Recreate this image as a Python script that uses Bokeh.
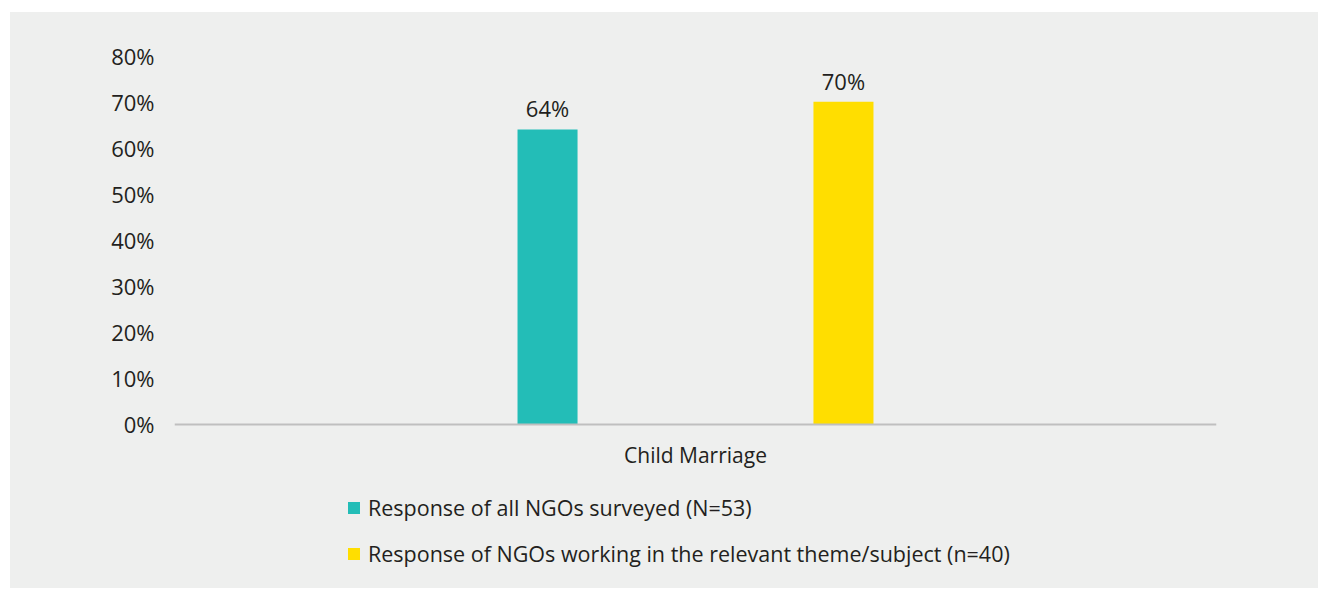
from bokeh.plotting import figure
from bokeh.models import (ColumnDataSource, FactorRange, Range1d, FixedTicker,
                          PrintfTickFormatter, Legend, LegendItem, Span)
from bokeh.transform import dodge
from bokeh.core.properties import value
from bokeh.embed import file_html
from bokeh.resources import INLINE

# ---- data ----
categories = ["Child Marriage"]
series_names = ["Response of all NGOs surveyed (N=53)",
                "Response of NGOs working in the relevant theme/subject (n=40)"]
all_ngos = [64]
relevant_ngos = [70]
y_ticks = [0, 10, 20, 30, 40, 50, 60, 70, 80]

# ---- styles ----
colors = ["#23bdb7", "#ffde00"]
bg = "#eeefee"
txt = "#231f20"
font = "Open Sans"

src = ColumnDataSource(dict(
    cat=categories,
    a=all_ngos,
    b=relevant_ngos,
    a_lbl=[f"{v}%" for v in all_ngos],
    b_lbl=[f"{v}%" for v in relevant_ngos],
))

# frame extends to the bottom so the legend (inside the frame) is not clipped
p = figure(x_range=FactorRange(*categories), y_range=Range1d(-35.6, 83.5),
           width=1308, height=576, output_backend="svg", toolbar_location=None,
           min_border_left=164, min_border_right=102, min_border_top=27,
           min_border_bottom=0,
           background_fill_color=bg, border_fill_color=bg, outline_line_color=None)
p.margin = (12, 0, 0, 10)
p.styles = {"background-color": bg}

off = 0.142
bw = 0.0576
r1 = p.vbar(x=dodge("cat", -off, range=p.x_range), top="a", width=bw,
            source=src, fill_color=colors[0], line_color=None)
r2 = p.vbar(x=dodge("cat", off, range=p.x_range), top="b", width=bw,
            source=src, fill_color=colors[1], line_color=None)

p.text(x=dodge("cat", -off, range=p.x_range), y="a", text="a_lbl", source=src,
       text_align="center", text_baseline="bottom", y_offset=-6,
       text_font=value(font), text_font_size="22px", text_color=txt)
p.text(x=dodge("cat", off, range=p.x_range), y="b", text="b_lbl", source=src,
       text_align="center", text_baseline="bottom", y_offset=-6,
       text_font=value(font), text_font_size="22px", text_color=txt)

# category axis: baseline + category label
p.add_layout(Span(location=0, dimension="width", line_color="#bfbfbf", line_width=2))
p.text(x="cat", y=0, text="cat", source=src, text_align="center",
       text_baseline="top", y_offset=17,
       text_font=value(font), text_font_size="21px", text_color=txt)
p.xaxis.visible = False

p.grid.visible = False

p.yaxis.ticker = FixedTicker(ticks=y_ticks)
p.yaxis.formatter = PrintfTickFormatter(format="%d%%")
p.yaxis.axis_line_color = None
p.yaxis.major_tick_line_color = None
p.yaxis.minor_tick_line_color = None
p.yaxis.major_tick_out = 0
p.yaxis.minor_tick_out = 0
p.yaxis.major_label_standoff = 20
p.yaxis.major_label_text_font = font
p.yaxis.major_label_text_font_size = "22px"
p.yaxis.major_label_text_color = txt

legend = Legend(items=[LegendItem(label=series_names[0], renderers=[r1]),
                       LegendItem(label=series_names[1], renderers=[r2])],
                location=(172, 20), orientation="vertical",
                glyph_width=15, glyph_height=15, label_standoff=7,
                label_height=28, spacing=17, padding=0, margin=0,
                border_line_color=None, background_fill_alpha=0,
                label_text_font=font, label_text_font_size="21.5px",
                label_text_color=txt)
p.add_layout(legend)

open("out.html", "w").write(file_html(p, INLINE))
